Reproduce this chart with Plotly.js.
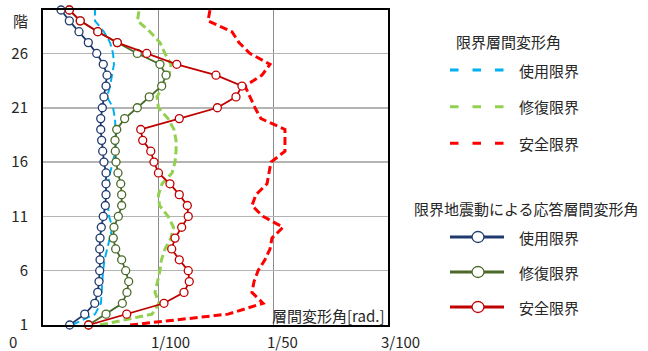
<!DOCTYPE html>
<html>
<head>
<meta charset="utf-8">
<script src="https://cdn.plot.ly/plotly-3.0.1.min.js"></script>
<style>html,body{margin:0;padding:0;background:#fff}#chart{width:648px;height:351px}</style>
</head>
<body>
<div id="chart"></div>
<script>
// Floors 1..30
const floors = [1,2,3,4,5,6,7,8,9,10,11,12,13,14,15,16,17,18,19,20,21,22,23,24,25,26,27,28,29,30];

// Values in units of 1/100 rad, floor 1 -> floor 30
// 限界層間変形角 (limit drift angles, dashed)
const limitService = [0.252,0.452,0.504,0.509,0.513,0.522,0.535,0.557,0.583,0.604,0.574,0.565,0.565,0.565,0.583,0.609,0.630,0.635,0.630,0.626,0.609,0.557,0.583,0.600,0.617,0.609,0.583,0.530,0.452,0.452];
const limitRepair  = [0.496,0.948,1.009,0.974,0.996,1.017,1.030,1.061,1.113,1.135,1.087,1.013,1.004,1.035,1.122,1.148,1.157,1.157,1.139,1.087,1.004,0.991,1.043,1.096,1.113,1.061,1.017,0.930,0.822,0.835];
const limitSafety  = [0.757,1.609,1.913,1.817,1.835,1.870,1.930,1.974,1.991,2.087,1.913,1.817,1.852,1.948,1.965,1.983,2.104,2.104,2.104,1.896,1.843,1.800,1.757,1.904,1.974,1.800,1.704,1.643,1.435,1.452];

// 限界地震動による応答層間変形角 (response drift angles, lines with markers)
const respService = [0.232,0.363,0.450,0.476,0.487,0.493,0.496,0.493,0.496,0.507,0.524,0.542,0.548,0.548,0.548,0.530,0.519,0.510,0.502,0.502,0.516,0.530,0.548,0.557,0.524,0.467,0.394,0.313,0.229,0.157];
const respRepair  = [0.396,0.548,0.690,0.730,0.745,0.719,0.684,0.632,0.611,0.617,0.655,0.684,0.684,0.676,0.652,0.635,0.629,0.626,0.641,0.710,0.820,0.924,1.032,1.070,1.017,0.820,0.646,0.476,0.324,0.229];
const respSafety  = [0.396,0.728,1.052,1.226,1.272,1.263,1.185,1.119,1.148,1.206,1.263,1.255,1.185,1.104,1.004,0.965,0.937,0.867,0.850,1.185,1.516,1.678,1.730,1.504,1.163,0.902,0.646,0.476,0.324,0.229];

const xTickVals = [0, 1, 2, 3];
const xTickText = ['0', '1/100', '1/50', '3/100'];
const yTickVals = [1, 6, 11, 16, 21, 26];
const seriesNames = ['使用限界', '修復限界', '安全限界'];
const legendTitles = ['限界層間変形角', '限界地震動による応答層間変形角'];
const xAxisTitle = '層間変形角[rad.]';
const yUnit = '階';

const FONT = '"Noto Sans CJK JP", "Noto Sans", sans-serif';
const TXT = '#262626';
const limitColors = ['#00B0F0', '#92D050', '#FF0000'];
const respColors = ['#1F3A6E', '#4A6A2A', '#C00000'];

const limits = [limitService, limitRepair, limitSafety];
const resps = [respService, respRepair, respSafety];
const limitWidths = [2, 3, 3];

const traces = [];
limits.forEach((arr, i) => {
  traces.push({
    x: arr, y: floors, type: 'scatter', mode: 'lines', name: seriesNames[i],
    line: {color: limitColors[i], width: limitWidths[i], dash: '8px,4px'},
    cliponaxis: false, showlegend: false, hoverinfo: 'skip'
  });
});
resps.forEach((arr, i) => {
  traces.push({
    x: arr, y: floors, type: 'scatter', mode: 'lines+markers', name: seriesNames[i],
    line: {color: respColors[i], width: 1.8},
    marker: {symbol: 'circle', size: 8, color: '#FFFFFF', line: {color: respColors[i], width: 1.3}},
    cliponaxis: false, showlegend: false, hoverinfo: 'skip'
  });
});

// pixel -> paper helpers (plot area: x 43..388, y 10..325)
const L = 43, T = 10, W = 345, H = 315;
const px = X => (X - L) / W;
const py = Y => (T + H - Y) / H;

const annotations = [];
const xShifts = [-30, 12, 9, 12];
xTickVals.forEach((v, i) => {
  annotations.push({xref: 'x', yref: 'paper', x: v, y: py(341.5), xshift: xShifts[i],
    text: xTickText[i], showarrow: false, xanchor: 'center', yanchor: 'middle',
    font: {family: FONT, size: 15, color: TXT}});
});
annotations.push({xref: 'paper', yref: 'paper', x: px(20), y: py(20), text: yUnit, showarrow: false,
  xanchor: 'center', yanchor: 'middle', font: {family: FONT, size: 15, color: TXT}});
annotations.push({xref: 'paper', yref: 'paper', x: px(386), y: py(315), text: xAxisTitle, showarrow: false,
  xanchor: 'right', yanchor: 'middle', font: {family: FONT, size: 15, color: TXT}});

// manual legend
const shapes = [];
annotations.push({xref: 'paper', yref: 'paper', x: px(454), y: py(42), text: legendTitles[0], showarrow: false,
  xanchor: 'left', yanchor: 'middle', font: {family: FONT, size: 15, color: TXT}});
annotations.push({xref: 'paper', yref: 'paper', x: px(412), y: py(208), text: legendTitles[1], showarrow: false,
  xanchor: 'left', yanchor: 'middle', font: {family: FONT, size: 15, color: TXT}});
const limY = [70, 106.7, 143.3];
const respY = [237, 272, 307];
seriesNames.forEach((nm, i) => {
  shapes.push({type: 'line', xref: 'paper', yref: 'paper', x0: px(450), x1: px(504), y0: py(limY[i]), y1: py(limY[i]),
    line: {color: limitColors[i], width: 3, dash: '8.5px,14px'}});
  annotations.push({xref: 'paper', yref: 'paper', x: px(517), y: py(limY[i]), text: nm, showarrow: false,
    xanchor: 'left', yanchor: 'middle', font: {family: FONT, size: 15, color: TXT}});
  shapes.push({type: 'line', xref: 'paper', yref: 'paper', x0: px(450), x1: px(504), y0: py(respY[i]), y1: py(respY[i]),
    line: {color: respColors[i], width: 3}});
  shapes.push({type: 'circle', xref: 'paper', yref: 'paper', x0: px(472), x1: px(484), y0: py(respY[i] + 5.5), y1: py(respY[i] - 5.5),
    fillcolor: '#FFFFFF', line: {color: respColors[i], width: 1.3}});
  annotations.push({xref: 'paper', yref: 'paper', x: px(517), y: py(respY[i]), text: nm, showarrow: false,
    xanchor: 'left', yanchor: 'middle', font: {family: FONT, size: 15, color: TXT}});
});

const layout = {
  width: 648, height: 351,
  margin: {l: L, r: 648 - L - W, t: T, b: 351 - T - H, pad: 0},
  paper_bgcolor: '#FFFFFF', plot_bgcolor: '#FFFFFF',
  showlegend: false,
  font: {family: FONT, size: 15, color: TXT},
  xaxis: {
    range: [0, 3], tickvals: xTickVals, ticktext: xTickText, showticklabels: false,
    showgrid: true, gridcolor: '#8C8C8C', gridwidth: 1, zeroline: false,
    showline: true, linecolor: '#000000', linewidth: 2, mirror: true, ticks: ''
  },
  yaxis: {
    range: [1, 30], tickvals: yTickVals, showgrid: true, gridcolor: '#B4B4B4', gridwidth: 1.5,
    zeroline: false, showline: true, linecolor: '#000000', linewidth: 2, mirror: true, ticks: '',
    ticklabelstandoff: 10, tickfont: {family: FONT, size: 15, color: TXT}
  },
  annotations: annotations,
  shapes: shapes
};

Plotly.newPlot('chart', traces, layout, {staticPlot: true, displayModeBar: false});
</script>
</body>
</html>
